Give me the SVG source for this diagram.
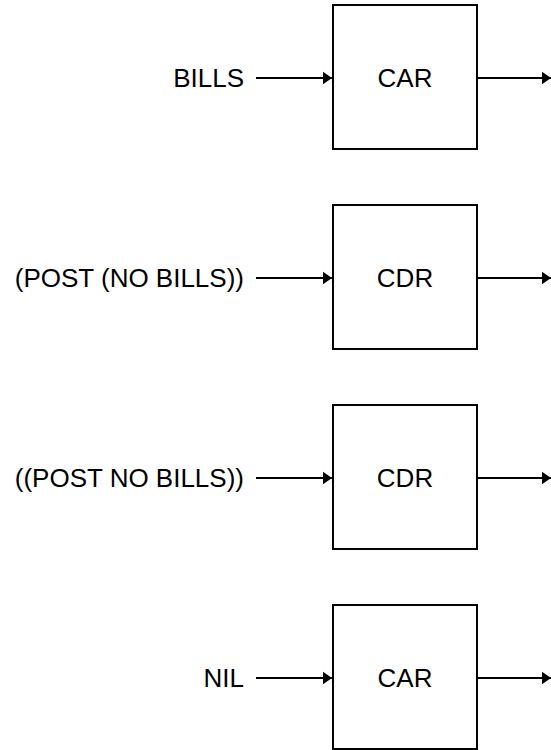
<svg xmlns="http://www.w3.org/2000/svg" width="551" height="750" viewBox="0 0 551 750">
<style>
.box{fill:#fff;stroke:#000;stroke-width:2}
.lbl{font-family:"Liberation Sans",Arial,sans-serif;font-size:26px;fill:#000}
.c{text-anchor:middle}
.e{text-anchor:end}
.ln{stroke:#000;stroke-width:2;fill:none;marker-end:url(#ah)}
</style>
<defs>
<marker id="ah" markerWidth="10" markerHeight="14" refX="9.5" refY="7" orient="auto" markerUnits="userSpaceOnUse">
<path d="M0,0.5 L9.5,7 L0,13.5 Z" fill="#000"/>
</marker>
</defs>
<g id="node1"><rect class="box" x="333" y="5" width="144" height="144"/><text class="lbl c" x="405" y="87">CAR</text></g>
<g id="node2"><rect class="box" x="333" y="205" width="144" height="144"/><text class="lbl c" x="405" y="287">CDR</text></g>
<g id="node3"><rect class="box" x="333" y="405" width="144" height="144"/><text class="lbl c" x="405" y="487">CDR</text></g>
<g id="node4"><rect class="box" x="333" y="605" width="144" height="144"/><text class="lbl c" x="405" y="687">CAR</text></g>
<g id="labels">
<text class="lbl e" x="244" y="87">BILLS</text>
<text class="lbl e" x="244" y="287">(POST (NO BILLS))</text>
<text class="lbl e" x="244" y="487">((POST NO BILLS))</text>
<text class="lbl e" x="244" y="687">NIL</text>
</g>
<g id="connectors">
<line class="ln" x1="256" y1="78" x2="332" y2="78"/>
<line class="ln" x1="478" y1="78" x2="551" y2="78"/>
<line class="ln" x1="256" y1="278" x2="332" y2="278"/>
<line class="ln" x1="478" y1="278" x2="551" y2="278"/>
<line class="ln" x1="256" y1="478" x2="332" y2="478"/>
<line class="ln" x1="478" y1="478" x2="551" y2="478"/>
<line class="ln" x1="256" y1="678" x2="332" y2="678"/>
<line class="ln" x1="478" y1="678" x2="551" y2="678"/>
</g>
</svg>
